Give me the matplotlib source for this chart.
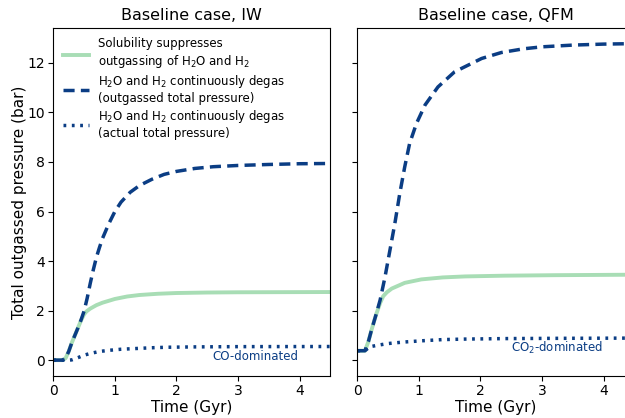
import matplotlib
matplotlib.use("Agg")
import matplotlib.pyplot as plt
import numpy as np

# values (time in Gyr, pressure in bar)
iw_t_dash = [0, 0.15, 0.2, 0.25, 0.3, 0.35, 0.4, 0.45, 0.5, 0.55, 0.6, 0.65, 0.7, 0.75, 0.8, 0.9,
             1.0, 1.1, 1.25, 1.4, 1.6, 1.8, 2.0, 2.3, 2.6, 3.0, 3.5, 4.0, 4.5]
iw_p_dash = [0, 0, 0.08, 0.35, 0.7, 1.0, 1.3, 1.62, 1.98, 2.5, 3.1, 3.65, 4.15, 4.55, 4.92, 5.5,
             6.0, 6.38, 6.78, 7.05, 7.3, 7.5, 7.62, 7.74, 7.81, 7.86, 7.9, 7.93, 7.94]
iw_t_sol = [0, 0.15, 0.2, 0.25, 0.3, 0.35, 0.4, 0.45, 0.5, 0.54, 0.6, 0.7, 0.8, 1.0, 1.2, 1.4,
            1.7, 2.0, 2.5, 3.0, 4.5]
iw_p_sol = [0, 0, 0.08, 0.35, 0.7, 1.0, 1.3, 1.6, 1.85, 1.97, 2.08, 2.22, 2.32, 2.47, 2.57, 2.63,
            2.68, 2.71, 2.73, 2.74, 2.75]
iw_t_dot = [0, 0.25, 0.3, 0.4, 0.5, 0.6, 0.75, 0.92, 1.1, 1.35, 1.6, 1.84, 2.3, 3.0, 4.5]
iw_p_dot = [0, 0, 0.01, 0.1, 0.2, 0.27, 0.35, 0.40, 0.44, 0.47, 0.5, 0.52, 0.535, 0.545, 0.55]

qfm_t_dash = [0, 0.125, 0.18, 0.23, 0.3, 0.37, 0.45, 0.53, 0.61, 0.69, 0.77, 0.85, 0.96, 1.10,
              1.31, 1.58, 2.02, 2.34, 2.7, 3.0, 3.5, 4.0, 4.5]
qfm_p_dash = [0.38, 0.38, 0.75, 1.21, 1.8, 2.42, 3.36, 4.44, 5.52, 6.73, 7.8, 8.75, 9.55, 10.3,
              11.03, 11.64, 12.18, 12.42, 12.57, 12.65, 12.72, 12.76, 12.78]
qfm_t_sol = [0, 0.125, 0.18, 0.23, 0.3, 0.37, 0.42, 0.48, 0.56, 0.77, 1.04, 1.39, 1.75, 2.39, 3.2, 4.5]
qfm_p_sol = [0.38, 0.38, 0.75, 1.21, 1.8, 2.3, 2.58, 2.74, 2.89, 3.12, 3.26, 3.34, 3.38, 3.41, 3.43, 3.45]
qfm_t_dot = [0, 0.125, 0.2, 0.35, 0.5, 0.75, 1.04, 1.39, 1.75, 2.39, 3.2, 4.5]
qfm_p_dot = [0.38, 0.38, 0.54, 0.61, 0.67, 0.73, 0.78, 0.83, 0.85, 0.87, 0.88, 0.89]

titles = ["Baseline case, IW", "Baseline case, QFM"]
notes = ["CO-dominated", "CO$_2$-dominated"]

green = "#a8ddb5"
navy = "#0b3d84"

fig = plt.figure(figsize=(6.25, 4.18), dpi=100)
ax1 = fig.add_axes([0.0853, 0.1005, 0.4432, 0.8325])
ax2 = fig.add_axes([0.5717, 0.1005, 0.4432, 0.8325], sharey=ax1)

panels = [
    (ax1, iw_t_sol, iw_p_sol, iw_t_dash, iw_p_dash, iw_t_dot, iw_p_dot),
    (ax2, qfm_t_sol, qfm_p_sol, qfm_t_dash, qfm_p_dash, qfm_t_dot, qfm_p_dot),
]
for i, (ax, ts, ps, td, pd_, tdt, pdt) in enumerate(panels):
    ax.plot(ts, ps, color=green, lw=2.8,
            label="Solubility suppresses\noutgassing of H$_2$O and H$_2$")
    ax.plot(td, pd_, color=navy, lw=2.5, ls=(0, (3.2, 1.8)),
            label="H$_2$O and H$_2$ continuously degas\n(outgassed total pressure)")
    ax.plot(tdt, pdt, color=navy, lw=2.5, ls=(0, (0.8, 1.6)),
            label="H$_2$O and H$_2$ continuously degas\n(actual total pressure)")
    ax.set_xlim(0, 4.5)
    ax.set_xlabel("Time (Gyr)", fontsize=11, labelpad=1)
    ax.set_title(titles[i], fontsize=11.5)
    ax.tick_params(labelsize=10, pad=2.5)

ax1.set_ylim(-0.64, 13.41)
ax1.set_ylabel("Total outgassed pressure (bar)", fontsize=11, labelpad=0.5)
ax2.tick_params(labelleft=False)

ax1.text(3.98, 0.16, notes[0], color=navy, fontsize=8.5, ha="right", va="center")
ax2.text(3.98, 0.48, notes[1], color=navy, fontsize=8.5, ha="right", va="center")

ax1.legend(loc="upper left", frameon=False, fontsize=8.5, handlelength=2.2,
           labelspacing=0.25, borderaxespad=0.4)

fig.savefig("out.png", dpi=100)
